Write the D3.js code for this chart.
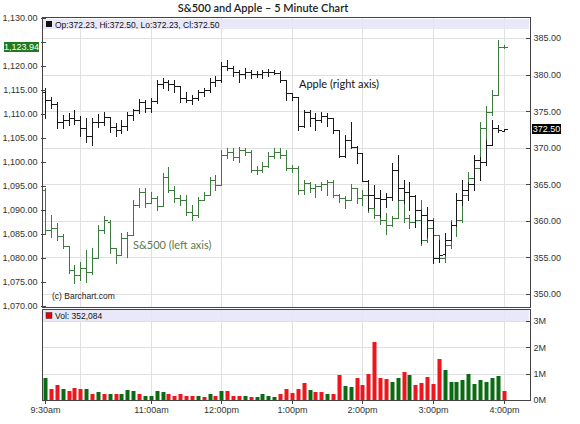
<!DOCTYPE html>
<html><head><meta charset="utf-8">
<script src="https://cdn.jsdelivr.net/npm/d3@7"></script>
<style>body{margin:0;background:#fff;} svg{display:block;}</style>
</head><body><svg id="c" width="580" height="424"></svg>
<script>
// ---------- DATA ----------
const titleText = "S&500 and Apple \u2013 5 Minute Chart";
const timeLabels = ["9:30am","11:00am","12:00pm","1:00pm","2:00pm","3:00pm","4:00pm"];
const timeLabelBars = [0,18,30,42,54,66,78];
const gridBars = [6,18,30,42,54,66,78];
const spTicks = [1070,1075,1080,1085,1090,1095,1100,1105,1110,1115,1120,1125,1130];
const aaplTicks = [350,355,360,365,370,375,380,385];
const volTicks = [0,1,2,3];

const aaplOpen  = [377.6,376.5,376.0,373.5,373.8,374.0,373.8,372.7,371.6,373.5,373.5,374.2,372.8,372.4,373.0,374.5,375.2,376.2,375.4,376.4,378.7,379.0,378.7,378.4,376.8,376.5,376.8,377.6,377.9,379.0,379.3,381.2,380.9,380.3,380.1,380.3,380.1,380.1,380.3,380.3,380.2,379.3,377.5,376.9,373.0,374.9,374.1,373.8,374.3,374.1,372.4,368.9,371.0,370.1,369.3,365.4,363.5,363.1,363.0,363.2,366.9,364.5,363.9,363.4,361.5,360.8,360.1,354.9,355.5,357.4,359.4,362.8,364.2,365.0,368.3,368.0,370.4,372.7,372.23];
const aaplHigh  = [378.2,376.9,376.2,374.5,374.7,375.2,374.3,374.1,374.1,374.6,374.9,374.2,373.4,373.8,374.9,375.3,376.7,376.5,376.8,379.3,379.5,379.3,379.3,378.4,377.6,377.2,377.9,378.2,379.5,379.8,381.7,382.0,381.2,380.6,380.9,380.6,380.5,380.6,380.8,380.6,380.5,379.3,377.5,376.8,375.2,375.2,374.7,374.9,374.7,374.1,372.4,371.7,373.5,370.2,369.3,365.6,364.9,364.2,363.8,367.9,369.0,365.6,365.3,363.5,361.5,361.9,360.1,357.4,358.3,359.8,363.8,365.6,365.3,369.0,368.7,371.0,373.8,373.1,372.50];
const aaplLow   = [374.1,375.4,372.7,372.7,373.1,373.2,371.6,370.8,370.4,372.8,373.1,372.1,371.6,372.0,372.4,373.8,374.7,374.9,374.9,376.1,378.2,377.9,377.6,376.2,376.2,376.0,376.5,377.1,377.6,378.4,379.0,380.6,379.8,379.0,379.5,379.5,379.7,379.5,379.8,380.1,379.0,376.5,376.5,372.4,372.8,373.0,372.4,373.5,373.0,372.0,368.7,368.7,370.0,367.9,365.4,361.5,361.9,360.5,361.9,362.8,362.8,362.4,361.5,359.1,357.0,357.8,354.2,354.4,355.4,357.4,359.3,362.2,362.8,364.2,365.6,367.6,370.4,372.1,372.23];
const aaplClose = [376.5,376.0,373.5,373.8,374.0,373.8,372.7,371.6,373.5,373.5,374.2,372.8,372.4,373.0,374.5,375.2,376.2,375.4,376.4,378.7,379.0,378.7,378.4,376.8,376.5,376.8,377.6,377.9,379.0,379.3,381.2,380.9,380.3,380.1,380.3,380.1,380.1,380.3,380.3,380.2,379.3,377.5,376.9,373.0,374.9,374.1,373.8,374.3,374.1,372.4,368.9,371.0,370.1,369.3,365.4,363.5,363.1,363.0,363.2,366.9,364.5,363.9,363.4,361.5,360.8,360.1,354.9,355.3,357.4,359.4,362.8,364.2,365.0,368.3,368.0,370.4,372.7,372.4,372.50];

const spOpen  = [1094.2,1085.8,1086.25,1084.6,1082.5,1077.5,1076.5,1077.9,1077.1,1080.0,1085.8,1087.5,1082.1,1080.6,1084.2,1084.8,1091.0,1093.75,1091.5,1092.5,1090.8,1096.9,1094.2,1092.5,1092.1,1089.6,1089.0,1092.1,1093.1,1096.25,1095.2,1101.5,1102.1,1101.0,1102.5,1102.1,1098.3,1098.3,1099.2,1101.25,1102.1,1101.5,1098.75,1098.75,1094.2,1095.6,1094.6,1095.0,1095.4,1095.8,1093.1,1092.5,1092.1,1094.6,1092.5,1093.1,1090.4,1089.0,1087.9,1086.9,1088.3,1092.1,1088.3,1087.5,1087.9,1083.75,1086.25,1084.8,1080.0,1082.7,1086.9,1087.9,1093.1,1096.7,1098.75,1107.1,1110.4,1114.0,1123.9];
const spHigh  = [1094.6,1089.0,1087.3,1085.0,1082.5,1078.5,1079.2,1081.7,1082.1,1086.9,1088.75,1087.9,1082.1,1085.2,1085.4,1092.1,1094.6,1094.6,1093.75,1092.9,1097.7,1099.0,1095.0,1093.1,1093.1,1091.0,1092.7,1093.75,1096.9,1097.3,1102.5,1102.9,1102.9,1103.1,1102.9,1102.5,1099.2,1100.0,1102.1,1102.9,1102.9,1102.5,1099.4,1099.2,1096.25,1095.8,1095.4,1095.8,1096.25,1096.25,1093.3,1092.9,1095.4,1094.6,1094.2,1093.75,1090.6,1089.6,1089.4,1088.75,1092.7,1092.9,1089.0,1088.75,1092.1,1087.5,1088.3,1084.8,1083.75,1087.9,1089.0,1094.2,1097.9,1100.0,1108.3,1111.7,1115.0,1125.4,1124.4];
const spLow   = [1085.2,1084.4,1083.75,1082.1,1076.9,1074.8,1075.4,1075.0,1076.7,1080.0,1085.2,1081.0,1079.0,1080.6,1080.2,1084.8,1090.6,1090.6,1091.5,1090.0,1090.8,1093.75,1091.7,1091.0,1089.0,1087.9,1088.5,1092.1,1093.1,1094.2,1095.2,1100.8,1100.4,1100.0,1101.5,1097.9,1097.5,1097.9,1099.0,1100.8,1100.8,1098.3,1097.9,1093.3,1093.3,1093.75,1092.7,1094.2,1093.1,1092.7,1091.7,1090.4,1092.1,1091.5,1091.0,1089.6,1088.3,1087.1,1085.0,1086.7,1088.3,1087.5,1086.25,1087.1,1082.7,1083.3,1083.75,1079.2,1079.2,1082.1,1084.6,1087.5,1092.1,1094.6,1098.3,1104.2,1109.8,1114.0,1123.8];
const spClose = [1085.8,1086.25,1084.6,1082.5,1077.5,1076.5,1077.9,1077.1,1080.0,1085.8,1087.9,1082.1,1080.6,1084.2,1084.8,1091.0,1093.75,1091.5,1092.5,1090.8,1096.9,1094.2,1092.5,1092.1,1089.6,1089.0,1092.1,1093.1,1096.25,1095.2,1101.5,1102.1,1101.0,1102.5,1102.1,1098.3,1098.3,1099.2,1101.25,1102.1,1101.5,1098.75,1098.75,1094.2,1095.6,1094.6,1095.0,1095.4,1095.8,1093.1,1092.5,1092.1,1094.6,1092.5,1093.1,1090.4,1089.0,1087.9,1086.9,1088.3,1092.1,1088.3,1087.5,1087.9,1083.75,1086.25,1084.8,1080.0,1082.7,1086.9,1087.9,1093.1,1096.7,1098.75,1107.1,1110.4,1114.0,1124.0,1123.94];

// volume in millions of shares, direction u = up (green), d = down (red)
const volume = [0.85,0.42,0.56,0.42,0.35,0.45,0.42,0.42,0.24,0.32,0.24,0.21,0.21,0.21,0.38,0.35,0.24,0.17,0.17,0.35,0.31,0.24,0.17,0.21,0.17,0.17,0.14,0.11,0.21,0.15,0.35,0.35,0.17,0.17,0.14,0.11,0.11,0.24,0.14,0.10,0.21,0.42,0.28,0.42,0.66,0.38,0.31,0.31,0.21,0.24,0.94,0.52,0.49,0.85,0.56,0.99,2.21,0.85,0.80,0.70,0.85,1.08,0.94,0.56,0.63,0.89,0.59,1.55,1.13,0.68,0.68,0.77,0.99,0.59,0.75,0.68,0.85,0.92,0.352084];
const volDir = ["u","d","d","u","d","d","d","u","d","u","d","u","d","u","u","u","d","u","u","u","u","d","d","d","d","d","u","d","u","d","u","d","d","d","u","d","u","u","u","u","d","d","d","d","d","u","d","d","u","d","d","u","u","d","d","d","d","d","d","u","u","d","u","d","d","d","d","d","u","u","u","u","u","u","u","u","u","u","d"];

const headerText = "Op:372.23, Hi:372.50, Lo:372.23, Cl:372.50";
const volHeaderText = "Vol: 352,084";
const lastSP = 1123.94, lastAAPL = 372.50;

// ---------- LAYOUT ----------
const P = {l:42, r:530, t:17, b:307};
const V = {t:309, b:400};
const svg = d3.select("#c");
const FONT = "'Liberation Sans', Arial, sans-serif";
const CAL = "Lato, 'Open Sans', sans-serif";

const x = d3.scaleLinear().domain([0,78]).range([45,503.5]);
const ySP = d3.scaleLinear().domain([1070,1130]).range([306,18]);
const yA = d3.scaleLinear().domain([350,385]).range([294,38]);
const yV = d3.scaleLinear().domain([0,3]).range([400,321]);
const px = i => Math.round(x(i)) + 0.5;
const py = v => Math.round(v) + 0.5;

// title
svg.append("text").attr("x",263).attr("y",12).attr("text-anchor","middle")
  .attr("font-family",CAL).attr("font-size","11px").attr("font-weight","600").attr("fill","#222").text(titleText);

// horizontal grid (main) at right-axis ticks
const g = svg.append("g").attr("shape-rendering","crispEdges");
g.selectAll(".hg").data(aaplTicks).join("line")
  .attr("x1",P.l).attr("x2",P.r).attr("y1",d=>py(yA(d))).attr("y2",d=>py(yA(d)))
  .attr("stroke","#e0e0e0");
g.selectAll(".vg").data(gridBars).join("line")
  .attr("x1",d=>px(d)).attr("x2",d=>px(d)).attr("y1",P.t).attr("y2",P.b)
  .attr("stroke","#e0e0e0");
g.selectAll(".vg2").data(gridBars).join("line")
  .attr("x1",d=>px(d)).attr("x2",d=>px(d)).attr("y1",V.t).attr("y2",V.b)
  .attr("stroke","#e0e0e0");
g.selectAll(".hv").data(volTicks.filter(d=>d>0)).join("line")
  .attr("x1",P.l).attr("x2",P.r).attr("y1",d=>py(yV(d))).attr("y2",d=>py(yV(d)))
  .attr("stroke","#e0e0e0");

// header bands
svg.append("rect").attr("x",P.l+1).attr("y",P.t+2).attr("width",P.r-P.l-2).attr("height",10)
  .attr("fill","#e6e6f8").attr("opacity",0.9);
svg.append("rect").attr("x",P.l+4).attr("y",P.t+4).attr("width",6).attr("height",6).attr("fill","#111");
svg.append("text").attr("x",P.l+13).attr("y",P.t+10.5).attr("font-family",FONT).attr("font-size","8.5px")
  .attr("fill","#111").text(headerText);
svg.append("rect").attr("x",P.l+1).attr("y",V.t+1).attr("width",P.r-P.l-2).attr("height",11)
  .attr("fill","#e6e6f8").attr("opacity",0.9);
svg.append("rect").attr("x",P.l+4).attr("y",V.t+3.5).attr("width",6).attr("height",6).attr("fill","#e00").attr("stroke","#333").attr("stroke-width",0.5);
svg.append("text").attr("x",P.l+13).attr("y",V.t+10).attr("font-family",FONT).attr("font-size","8.5px")
  .attr("fill","#111").text(volHeaderText);

// OHLC
function ohlcPath(n,o,h,l,c){
  return d3.range(n).map(i=>{
    const X = px(i);
    return `M${X},${h(i)}V${l(i)}M${X-3},${o(i)}H${X}M${X},${c(i)}H${X+3}`;
  }).join("");
}
svg.append("path").attr("fill","none").attr("stroke","#3d7a3d").attr("stroke-width",1).attr("shape-rendering","crispEdges")
  .attr("d", ohlcPath(spOpen.length, i=>py(ySP(spOpen[i])), i=>Math.round(ySP(spHigh[i])), i=>Math.round(ySP(spLow[i]))+1, i=>py(ySP(spClose[i]))));
svg.append("path").attr("fill","none").attr("stroke","#1a1a1a").attr("stroke-width",1).attr("shape-rendering","crispEdges")
  .attr("d", ohlcPath(aaplOpen.length, i=>py(yA(aaplOpen[i])), i=>Math.round(yA(aaplHigh[i])), i=>Math.round(yA(aaplLow[i]))+1, i=>py(yA(aaplClose[i]))));

// volume bars
svg.append("g").selectAll("rect").data(volume).join("rect")
  .attr("x",(d,i)=>Math.round(x(i))-1.5).attr("width",4)
  .attr("y",d=>Math.round(yV(d))).attr("height",d=>400-Math.round(yV(d)))
  .attr("fill",(d,i)=>volDir[i]==="u"?"#0b6b12":"#f0141c");

// annotations
svg.append("text").attr("x",299).attr("y",88).attr("font-family",CAL).attr("font-size","11px")
  .attr("fill","#111").text("Apple (right axis)");
svg.append("text").attr("x",133).attr("y",249).attr("font-family",CAL).attr("font-size","11px")
  .attr("fill","#5a7a50").text("S&500 (left axis)");
svg.append("text").attr("x",52).attr("y",299).attr("font-family",FONT).attr("font-size","8.5px")
  .attr("fill","#222").text("(c) Barchart.com");

// panel borders
const b = svg.append("g").attr("fill","none").attr("stroke","#444").attr("shape-rendering","crispEdges");
b.append("rect").attr("x",P.l+0.5).attr("y",P.t+0.5).attr("width",P.r-P.l).attr("height",P.b-P.t);
b.append("rect").attr("x",P.l+0.5).attr("y",V.t+0.5).attr("width",P.r-P.l).attr("height",V.b-V.t);

// axes
function styleAxis(sel){
  sel.select(".domain").remove();
  sel.selectAll("text").attr("font-family",FONT).attr("font-size","9px").attr("fill","#333");
  sel.selectAll("line").attr("stroke","#444").attr("shape-rendering","crispEdges");
}
svg.append("g").attr("transform","translate(45.5,0)")
  .call(d3.axisLeft(ySP).tickValues(spTicks).tickFormat(d => d===1125 ? "" : d3.format(",.2f")(d)).tickSize(5).tickPadding(3))
  .call(styleAxis);
svg.append("g").attr("transform","translate(525.5,0)")
  .call(d3.axisRight(yA).tickValues(aaplTicks).tickFormat(d3.format(".2f")).tickSize(5).tickPadding(3))
  .call(styleAxis);
svg.append("g").attr("transform","translate(525.5,0)")
  .call(d3.axisRight(yV).tickValues(volTicks).tickFormat(d=>d+"M").tickSize(5).tickPadding(3))
  .call(styleAxis);
const xa = svg.append("g").attr("transform",`translate(0,${V.b+0.5})`)
  .call(d3.axisBottom(x).tickValues(timeLabelBars).tickFormat((d,i)=>timeLabels[i]).tickSize(3).tickPadding(3));
xa.call(styleAxis);
xa.selectAll(".tick").attr("transform",d=>`translate(${px(d)},0)`);

// last value boxes
function valueBox(xLeft, yc, w, fill, txt){
  svg.append("rect").attr("x",xLeft).attr("y",Math.round(yc)-5).attr("width",w).attr("height",10).attr("fill",fill);
  svg.append("text").attr("x",xLeft+w/2).attr("y",Math.round(yc)+3.3).attr("text-anchor","middle")
    .attr("font-family",FONT).attr("font-size","9px").attr("fill","#fff").text(txt);
}
valueBox(4, ySP(lastSP), 35, "#1f7a22", d3.format(",.2f")(lastSP));
valueBox(532, yA(lastAAPL), 29, "#000", d3.format(".2f")(lastAAPL));
</script></body></html>
